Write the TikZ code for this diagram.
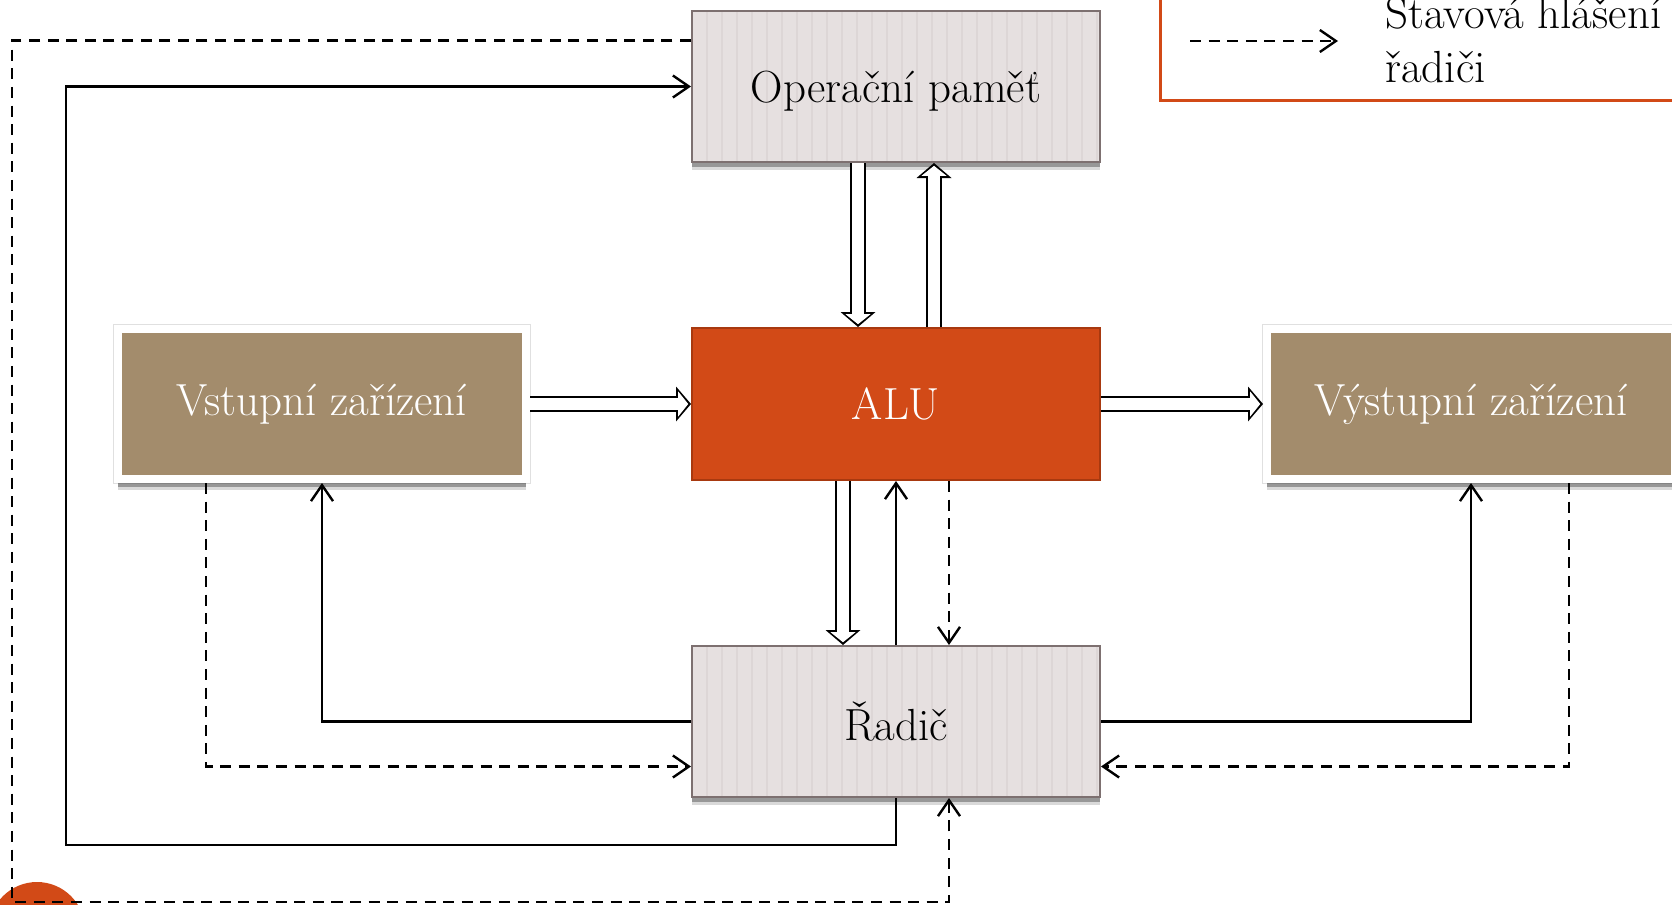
\documentclass[tikz,border=0pt]{standalone}
\usetikzlibrary{arrows.meta,shadows,calc}
\definecolor{aluor}{HTML}{D24A17}
\definecolor{aluborder}{HTML}{A8390F}
\definecolor{brownbox}{HTML}{A38C6C}
\definecolor{lightbox}{HTML}{E6E0E0}
\definecolor{lightborder}{HTML}{7D7070}
\definecolor{stripecol}{HTML}{DDD6D6}
\newcommand\hollowarrow[2]{%
  \draw[line width=8pt,-{Triangle[length=7.5pt,width=17.5pt,line width=0pt]}] #1 -- #2;
  \draw[line width=5.6pt,white,shorten >=1.4pt,-{Triangle[length=5pt,width=12.5pt,line width=0pt]}] #1 -- #2;}
\begin{document}
\begin{tikzpicture}[x=0.5pt,y=-0.5pt,
  boxtext/.style={font=\fontsize{22.5}{27}\selectfont},
  softshadow/.style={drop shadow={shadow xshift=0pt, shadow yshift=-#1, opacity=0.15, fill=black},
    drop shadow={shadow xshift=0pt, shadow yshift=-#1+1.5pt, opacity=0.3, fill=black}},
  lightnode/.style={boxtext, draw=lightborder, line width=1pt, fill=lightbox,
    minimum width=204pt, minimum height=75.5pt, inner sep=0pt, text depth=0pt,
    softshadow=4pt,
    path picture={\foreach \i in {1,...,27}{\draw[stripecol, line width=0.8pt]
      ([xshift=\i*7.5pt]path picture bounding box.south west) --
      ([xshift=\i*7.5pt]path picture bounding box.north west);}}},
  brownnode/.style={boxtext, text=white, fill=brownbox, draw=white, line width=4pt,
    minimum width=204pt, minimum height=75pt, inner sep=0pt,
    preaction={draw=black!12, line width=5pt},
    softshadow=5.5pt},
  alunode/.style={boxtext, text=white, fill=aluor, draw=aluborder, line width=1pt,
    minimum width=204pt, minimum height=76pt, inner sep=0pt},
  arr/.style={line width=1.2pt, -{Straight Barb[length=8pt,width=11pt]}},
  dsh/.style={arr, dash pattern=on 5.5pt off 3.8pt},
  legtext/.style={font=\fontsize{22.5}{27}\selectfont, anchor=base west, inner sep=0pt}
]
\useasboundingbox (0,0) rectangle (1672,905);
\fill[aluor] (37,930) circle (24pt);

% legend
\draw[aluor, line width=1.5pt] (1160,-20) rectangle (1700,100);
\coordinate (lg1) at (1190,41);
\coordinate (lg2) at (1338,41);
\draw[dsh] (lg1) -- (lg2);
\node[legtext] (lt1) at (1385,28) {Stavová hlášení};
\node[legtext] (lt2) at (1385,82) {řadiči};

% nodes
\node[lightnode] (mem) at (896,86.5) {Operační paměť};
\node[alunode] (alu) at (896,404) {ALU};
\node[lightnode] (rad) at (896,721.5) {Řadič};
\node[brownnode] (in) at (322,404) {Vstupní zařízení};
\node[brownnode] (out) at (1471,404) {Výstupní zařízení};

% hollow arrows
\hollowarrow{([xshift=-19pt]mem.south)}{([xshift=-19pt]alu.north)}
\hollowarrow{([xshift=19pt]alu.north)}{([xshift=19pt]mem.south)}
\hollowarrow{(in.east)}{(alu.west)}
\hollowarrow{(alu.east)}{(out.west)}
\hollowarrow{([xshift=-26.5pt]alu.south)}{([xshift=-26.5pt]rad.north)}

% solid / dashed connectors
\draw[arr] (rad.north) -- (alu.south);
\draw[dsh] ([xshift=26.5pt]alu.south) -- ([xshift=26.5pt]rad.north);
\draw[arr] (rad.west) -| (in.south);
\draw[dsh] ([xshift=-58pt]in.south) |- ([yshift=-22.5pt]rad.west);
\draw[arr] (rad.east) -| (out.south);
\draw[dsh] ([xshift=49pt]out.south) |- ([yshift=-22.5pt]rad.east);
\coordinate (c1) at (66,845);
\draw[arr] (rad.south) |- (c1) |- (mem.west);
\coordinate (c2) at (12,902);
\draw[dsh] ([yshift=23pt]mem.west) -| (c2) -| ([xshift=26.5pt]rad.south);
\end{tikzpicture}
\end{document}
